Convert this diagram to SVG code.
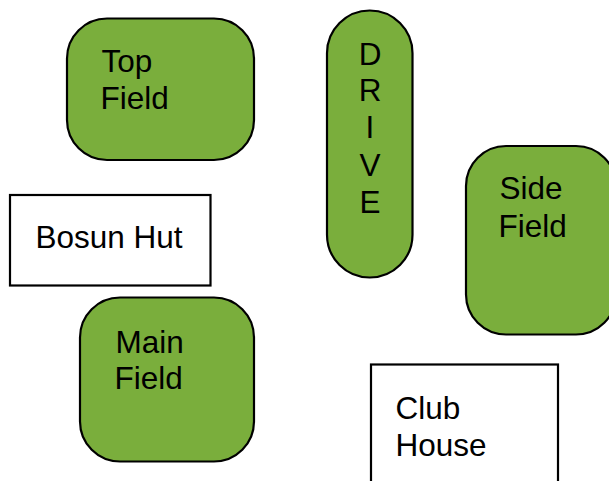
<svg xmlns="http://www.w3.org/2000/svg" width="609" height="481" viewBox="0 0 609 481">
<style>
.field{fill:#7aae3c;stroke:#000;stroke-width:2.2}
.box{fill:#fff;stroke:#000;stroke-width:2.2}
text{font-family:"Liberation Sans",Arial,sans-serif;font-size:31.5px;fill:#000}
.mid{text-anchor:middle}
</style>
<rect width="609" height="481" fill="#fff"/>
<g id="top-field">
<rect class="field" x="67" y="18.5" width="187" height="141.5" rx="40" ry="40"/>
<text x="101.5" y="72">Top</text>
<text x="100.5" y="108.5">Field</text>
</g>
<g id="bosun-hut">
<rect class="box" x="10" y="195" width="200.5" height="90.5"/>
<text x="35.5" y="248">Bosun Hut</text>
</g>
<g id="drive">
<rect class="field" x="327" y="10.5" width="85.5" height="267" rx="42.75" ry="42.75"/>
<text class="mid" x="370" y="64.5">D</text>
<text class="mid" x="370" y="101">R</text>
<text class="mid" x="370" y="138">I</text>
<text class="mid" x="370" y="175.5">V</text>
<text class="mid" x="370" y="212.5">E</text>
</g>
<g id="side-field">
<rect class="field" x="466" y="146" width="150" height="188.5" rx="40" ry="40"/>
<text x="499.5" y="199">Side</text>
<text x="498.5" y="236.5">Field</text>
</g>
<g id="main-field">
<rect class="field" x="80" y="297.5" width="174" height="164" rx="40" ry="40"/>
<text x="115.5" y="352.5">Main</text>
<text x="114.5" y="389">Field</text>
</g>
<g id="club-house">
<rect class="box" x="371" y="364.5" width="187" height="130"/>
<text x="395.5" y="419">Club</text>
<text x="395.5" y="456">House</text>
</g>
<g id="connectors"></g>
</svg>
